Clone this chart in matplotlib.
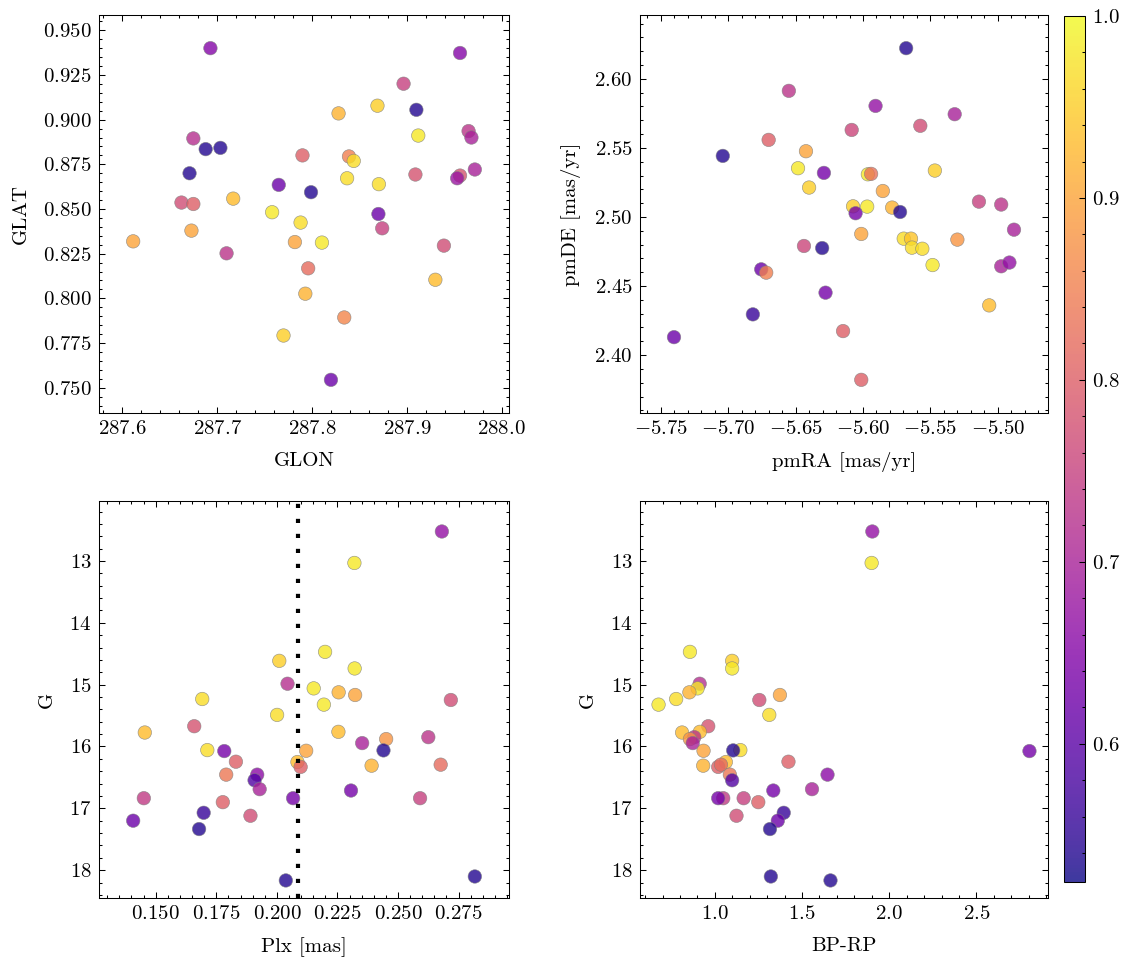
import numpy as np
import matplotlib
matplotlib.use("Agg")
import matplotlib.pyplot as plt
from matplotlib.ticker import MultipleLocator, AutoMinorLocator
from matplotlib.colors import Normalize

# ---------------- data ----------------
# Panel 1: sky position
glon = [287.693, 287.956, 287.8965, 287.869, 287.828, 287.910, 287.965, 287.968, 287.912,
        287.675, 287.688, 287.7035, 287.790, 287.839, 287.844, 287.9716, 287.671, 287.909,
        287.956, 287.953, 287.837, 287.8705, 287.765, 287.799, 287.717, 287.6625, 287.675,
        287.758, 287.870, 287.788, 287.874, 287.673, 287.6116, 287.782, 287.8105, 287.939,
        287.710, 287.796, 287.930, 287.793, 287.834, 287.770, 287.820]
glat = [0.9400, 0.9373, 0.9201, 0.9078, 0.9035, 0.9055, 0.8936, 0.8900, 0.8911,
        0.8895, 0.8835, 0.8842, 0.8800, 0.8794, 0.8769, 0.8721, 0.8700, 0.8693,
        0.8687, 0.8672, 0.8672, 0.8639, 0.8635, 0.8594, 0.8558, 0.8536, 0.8528,
        0.8482, 0.8472, 0.8424, 0.8392, 0.8379, 0.8319, 0.8315, 0.8312, 0.8295,
        0.8252, 0.8168, 0.8104, 0.8026, 0.7893, 0.7792, 0.7544]
prob_pos = [0.65, 0.65, 0.75, 0.95, 0.92, 0.54, 0.73, 0.70, 0.98,
            0.72, 0.54, 0.54, 0.80, 0.85, 0.97, 0.70, 0.54, 0.78,
            0.78, 0.68, 0.97, 0.97, 0.62, 0.54, 0.93, 0.77, 0.80,
            0.98, 0.62, 0.97, 0.75, 0.90, 0.90, 0.90, 0.98, 0.77,
            0.73, 0.82, 0.93, 0.92, 0.86, 0.95, 0.62]

# Panel 2: proper motions
pmra = [-5.568, -5.655, -5.5907, -5.532, -5.5575, -5.6084, -5.670, -5.704, -5.6423,
        -5.6482, -5.5467, -5.629, -5.5964, -5.594, -5.640, -5.5853, -5.514, -5.4975,
        -5.6074, -5.5969, -5.5784, -5.5725, -5.6055, -5.488, -5.6013, -5.530, -5.5698,
        -5.5644, -5.5637, -5.556, -5.6438, -5.6303, -5.5484, -5.4975, -5.4914, -5.6755,
        -5.6718, -5.6278, -5.5064, -5.6817, -5.6148, -5.7402, -5.6013]
pmde = [2.6222, 2.5913, 2.5804, 2.5744, 2.5660, 2.5630, 2.5558, 2.5442, 2.5476,
        2.5353, 2.5336, 2.5319, 2.5309, 2.5312, 2.5213, 2.5188, 2.5111, 2.5090,
        2.5077, 2.5075, 2.5068, 2.5036, 2.5027, 2.4908, 2.4877, 2.4836, 2.4843,
        2.4843, 2.4778, 2.4770, 2.4790, 2.4775, 2.4652, 2.4643, 2.4670, 2.4621,
        2.4597, 2.4452, 2.4360, 2.4295, 2.4174, 2.4130, 2.3821]
prob_pm = [0.54, 0.73, 0.67, 0.70, 0.77, 0.76, 0.80, 0.54, 0.90,
           0.98, 0.95, 0.63, 0.98, 0.83, 0.95, 0.90, 0.75, 0.73,
           0.95, 0.98, 0.92, 0.54, 0.63, 0.70, 0.90, 0.88, 0.97,
           0.94, 0.97, 0.97, 0.76, 0.54, 0.98, 0.70, 0.67, 0.62,
           0.85, 0.63, 0.93, 0.56, 0.80, 0.62, 0.80]

# Panels 3-4: parallax, photometry
plx = [0.2681, 0.2320, 0.2199, 0.2010, 0.2321, 0.2044, 0.2152, 0.2255, 0.2323,
       0.1692, 0.2718, 0.2194, 0.2001, 0.1659, 0.2254, 0.1455, 0.2625, 0.2451,
       0.2352, 0.1713, 0.1783, 0.2121, 0.2440, 0.1831, 0.2085, 0.2098, 0.2391,
       0.2676, 0.1791, 0.1919, 0.1908, 0.1929, 0.2306, 0.1451, 0.2067, 0.2591,
       0.1777, 0.1698, 0.1891, 0.1407, 0.1679, 0.2037, 0.2817]
gmag = [12.523, 13.032, 14.470, 14.615, 14.738, 14.985, 15.060, 15.124, 15.167,
        15.232, 15.248, 15.323, 15.489, 15.672, 15.763, 15.774, 15.849, 15.880,
        15.945, 16.058, 16.074, 16.069, 16.063, 16.246, 16.251, 16.330, 16.310,
        16.294, 16.455, 16.455, 16.546, 16.690, 16.712, 16.836, 16.836, 16.836,
        16.900, 17.072, 17.120, 17.200, 17.335, 18.166, 18.102]
bprp = [1.903, 1.899, 0.857, 1.099, 1.099, 0.913, 0.901, 0.854, 1.373,
        0.778, 1.255, 0.677, 1.312, 0.962, 0.914, 0.812, 0.882, 0.857,
        0.873, 1.146, 2.804, 0.935, 1.105, 1.422, 1.063, 1.019, 0.933,
        1.035, 1.086, 1.646, 1.099, 1.557, 1.335, 1.048, 1.019, 1.165,
        1.249, 1.395, 1.124, 1.361, 1.316, 1.663, 1.321]
prob_cmd = [0.67, 0.98, 0.98, 0.95, 0.98, 0.72, 0.98, 0.92, 0.90,
            0.97, 0.77, 0.98, 0.97, 0.78, 0.93, 0.93, 0.73, 0.88,
            0.70, 0.97, 0.63, 0.90, 0.54, 0.80, 0.93, 0.80, 0.92,
            0.82, 0.84, 0.66, 0.59, 0.70, 0.63, 0.74, 0.63, 0.75,
            0.80, 0.56, 0.77, 0.62, 0.54, 0.54, 0.54]

plx_ref = 0.2087          # dotted reference parallax
prob_min, prob_max = 0.524, 1.0
cbar_ticks = [0.6, 0.7, 0.8, 0.9, 1.0]

# ---------------- style ----------------
plt.rcParams.update({
    "font.family": "serif",
    "font.serif": ["cmr10"],
    "mathtext.fontset": "cm",
    "axes.formatter.use_mathtext": True,
    "font.size": 10,
    "axes.labelpad": 6.5,
    "axes.linewidth": 0.5,
    "xtick.direction": "in", "ytick.direction": "in",
    "xtick.top": True, "ytick.right": True,
    "xtick.major.size": 3, "ytick.major.size": 3,
    "xtick.minor.size": 1.5, "ytick.minor.size": 1.5,
    "xtick.major.width": 0.5, "ytick.major.width": 0.5,
    "xtick.minor.width": 0.5, "ytick.minor.width": 0.5,
    "xtick.minor.visible": True, "ytick.minor.visible": True,
})

W, H, DPI = 1133, 965, 150
fig = plt.figure(figsize=(W / DPI, H / DPI), dpi=DPI)

def axpx(x0, y0, x1, y1):
    return fig.add_axes([x0 / W, 1 - y1 / H, (x1 - x0) / W, (y1 - y0) / H])

ax1 = axpx(99, 15, 509, 413)
ax2 = axpx(640, 15, 1048, 413)
ax3 = axpx(99, 501, 509, 898)
ax4 = axpx(640, 501, 1048, 898)
cax = axpx(1064, 16, 1085, 882)

norm = Normalize(vmin=prob_min, vmax=prob_max)
kw = dict(cmap="plasma", norm=norm, s=42, alpha=0.8, edgecolors="grey", linewidths=0.3)

sc = ax1.scatter(glon, glat, c=prob_pos, **kw)
ax1.margins(0.1)
ax1.set_xlabel("GLON")
ax1.set_ylabel("GLAT")
ax1.xaxis.set_major_locator(MultipleLocator(0.1))
ax1.yaxis.set_major_locator(MultipleLocator(0.025))

ax2.scatter(pmra, pmde, c=prob_pm, **kw)
ax2.margins(0.1)
ax2.set_xlabel("pmRA [mas/yr]")
ax2.set_ylabel("pmDE [mas/yr]")
ax2.xaxis.set_major_locator(MultipleLocator(0.05))
ax2.yaxis.set_major_locator(MultipleLocator(0.05))

ax3.scatter(plx, gmag, c=prob_cmd, **kw)
ax3.axvline(plx_ref, color="black", lw=2.0, linestyle=(0, (1, 2.6)))
ax3.margins(x=0.1)
ax3.set_ylim(18.45, 12.03)
ax3.set_xlabel("Plx [mas]")
ax3.set_ylabel("G")
ax3.xaxis.set_major_locator(MultipleLocator(0.025))
ax3.yaxis.set_major_locator(MultipleLocator(1))

ax4.scatter(bprp, gmag, c=prob_cmd, **kw)
ax4.margins(x=0.05)
ax4.set_ylim(18.45, 12.03)
ax4.set_xlabel("BP-RP")
ax4.set_ylabel("G")
ax4.xaxis.set_major_locator(MultipleLocator(0.5))
ax4.yaxis.set_major_locator(MultipleLocator(1))

for ax in (ax1, ax2, ax3, ax4):
    ax.xaxis.set_minor_locator(AutoMinorLocator())
    ax.yaxis.set_minor_locator(AutoMinorLocator())

cb = fig.colorbar(sc, cax=cax)
cb.solids.set_alpha(0.8)
cb.set_ticks(cbar_ticks)
cb.outline.set_linewidth(0.5)
cax.minorticks_on()
cax.yaxis.set_minor_locator(AutoMinorLocator())
cax.tick_params(which="both", direction="in", right=True, left=False)

fig.savefig("out.png", dpi=DPI)
